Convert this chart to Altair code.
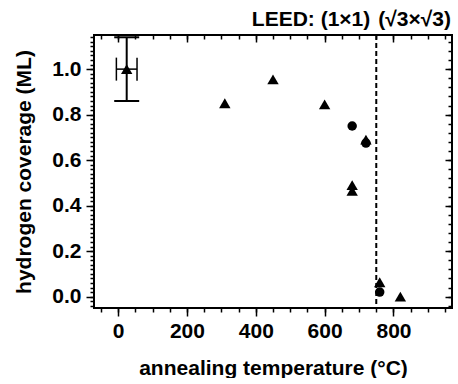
import altair as alt
import pandas as pd

FONT = "Liberation Sans"

# ---- data ----
tri_t = [25, 310, 450, 600, 720, 680, 680, 760, 820]
tri_cov = [1.0, 0.85, 0.955, 0.845, 0.69, 0.49, 0.465, 0.063, 0.0]
circ_t = [680, 720, 760]
circ_cov = [0.75, 0.675, 0.02]

err_t = [25]
err_cov = [1.0]
err_y_lo = [0.86]
err_y_hi = [1.14]
err_x_lo = [-5]
err_x_hi = [55]

boundary_t = [750]
phase_left = ["LEED: (1×1)"]
phase_right = ["(√3×√3)"]

# ---- axis ticks ----
x_major = [0, 200, 400, 600, 800]
x_minor = [-50, 0, 50, 100, 150, 200, 250, 300, 350, 400, 450,
           500, 550, 600, 650, 700, 750, 800, 850, 900, 950]
y_major = [0.0, 0.2, 0.4, 0.6, 0.8, 1.0]
y_minor_left = [round(-0.04 + 0.02 * i, 2) for i in range(60)]
y_minor_right = [round(-0.04 + 0.04 * i, 2) for i in range(30)]

x_scale = alt.Scale(domain=[-70, 970], nice=False, zero=False)
y_scale = alt.Scale(domain=[-0.05, 1.15], nice=False, zero=False)

tc = dict(domain=False, grid=False, tickColor="black", tickWidth=1.5)

ax_bottom_major = alt.Axis(orient="bottom", values=x_major, tickSize=8, labelPadding=4,
                           title="annealing temperature (°C)", titlePadding=16, format="d",
                           **tc)
ax_bottom_minor = alt.Axis(orient="bottom", values=x_minor, tickSize=4, labels=False,
                           title=None, **tc)
ax_top_major = alt.Axis(orient="top", values=x_major, tickSize=7, offset=-7, labels=False,
                        title=None, **tc)
ax_top_minor = alt.Axis(orient="top", values=x_minor, tickSize=4, offset=-4, labels=False,
                        title=None, **tc)

ax_left_major = alt.Axis(orient="left", values=y_major, tickSize=8, labelPadding=5,
                         format=".1f", title="hydrogen coverage (ML)", titlePadding=17,
                         **tc)
ax_left_minor = alt.Axis(orient="left", values=y_minor_left, tickSize=4, labels=False,
                         title=None, **tc)
ax_right_major = alt.Axis(orient="right", values=y_major, tickSize=7, offset=-7, labels=False,
                          title=None, **tc)
ax_right_minor = alt.Axis(orient="right", values=y_minor_right, tickSize=4, offset=-4,
                          labels=False, title=None, **tc)

tri_df = pd.DataFrame({"T": tri_t, "cov": tri_cov})
circ_df = pd.DataFrame({"T": circ_t, "cov": circ_cov})
err_df = pd.DataFrame({"T": err_t, "cov": err_cov, "ylo": err_y_lo, "yhi": err_y_hi,
                       "xlo": err_x_lo, "xhi": err_x_hi})
ycap_df = pd.DataFrame({"T": err_t * 2, "cap": err_y_lo + err_y_hi})
xcap_df = pd.DataFrame({"cap": err_x_lo + err_x_hi, "cov": err_cov * 2})
bound_df = pd.DataFrame({"T": boundary_t})
lab_left_df = pd.DataFrame({"T": boundary_t, "label": phase_left})
lab_right_df = pd.DataFrame({"T": boundary_t, "label": phase_right})

triangles = alt.Chart(tri_df).mark_point(
    shape="triangle-up", filled=True, size=130, color="black", opacity=1
).encode(
    x=alt.X("T:Q", scale=x_scale, axis=ax_bottom_major),
    y=alt.Y("cov:Q", scale=y_scale, axis=ax_left_major),
)

circles = alt.Chart(circ_df).mark_point(
    shape="circle", filled=True, size=90, color="black", opacity=1
).encode(
    x=alt.X("T:Q", scale=x_scale, axis=ax_bottom_minor),
    y=alt.Y("cov:Q", scale=y_scale, axis=ax_left_minor),
)

v_err = alt.Chart(err_df).mark_rule(color="black", strokeWidth=2).encode(
    x=alt.X("T:Q", scale=x_scale, axis=ax_top_major),
    y=alt.Y("ylo:Q", scale=y_scale, axis=ax_right_major),
    y2="yhi:Q",
)

h_err = alt.Chart(err_df).mark_rule(color="black", strokeWidth=1.5).encode(
    x=alt.X("xlo:Q", scale=x_scale, axis=ax_top_minor),
    x2="xhi:Q",
    y=alt.Y("cov:Q", scale=y_scale, axis=ax_right_minor),
)

y_caps = alt.Chart(ycap_df).mark_tick(
    orient="horizontal", size=25, thickness=2, color="black", opacity=1
).encode(
    x=alt.X("T:Q", scale=x_scale, axis=None),
    y=alt.Y("cap:Q", scale=y_scale, axis=None),
)

x_caps = alt.Chart(xcap_df).mark_tick(
    orient="vertical", size=23, thickness=1.5, color="black", opacity=1
).encode(
    x=alt.X("cap:Q", scale=x_scale, axis=None),
    y=alt.Y("cov:Q", scale=y_scale, axis=None),
)

boundary = alt.Chart(bound_df).mark_rule(
    color="black", strokeWidth=2, strokeDash=[5, 3]
).encode(x=alt.X("T:Q", scale=x_scale, axis=None))

text_style = dict(font=FONT, fontSize=21, fontWeight="bold", color="black",
                  baseline="alphabetic")
lab_left = alt.Chart(lab_left_df).mark_text(align="right", dx=-6, **text_style).encode(
    x=alt.X("T:Q", scale=x_scale, axis=None), y=alt.value(-9), text="label:N")
lab_right = alt.Chart(lab_right_df).mark_text(align="left", dx=2, **text_style).encode(
    x=alt.X("T:Q", scale=x_scale, axis=None), y=alt.value(-9), text="label:N")

chart = alt.layer(
    triangles, circles, v_err, h_err, y_caps, x_caps, boundary, lab_left, lab_right
).resolve_axis(
    x="independent", y="independent"
).properties(
    width=358, height=273,
    autosize=alt.AutoSizeParams(type="pad"),
    padding={"left": 13, "top": 9, "right": 0, "bottom": 0},
).configure_view(
    stroke="black", strokeWidth=2
).configure_axis(
    labelFont=FONT, labelFontSize=21, labelFontWeight="bold", labelColor="black",
    titleFont=FONT, titleFontSize=21, titleFontWeight="bold", titleColor="black",
)

chart.save("out.html", embed_options={"renderer": "svg", "actions": False})
